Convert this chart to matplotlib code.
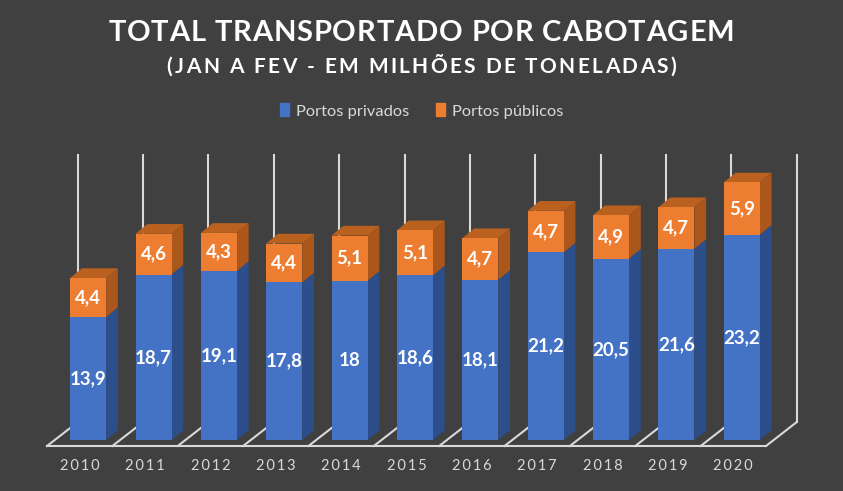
import matplotlib
matplotlib.use("Agg")
import matplotlib.pyplot as plt
from matplotlib.patches import Polygon, Patch
from matplotlib.font_manager import FontProperties

plt.rcParams['font.family'] = ['Lato', 'DejaVu Sans']

anos = ['2010', '2011', '2012', '2013', '2014', '2015', '2016', '2017', '2018', '2019', '2020']
privados = [13.9, 18.7, 19.1, 17.8, 18, 18.6, 18.1, 21.2, 20.5, 21.6, 23.2]
publicos = [4.4, 4.6, 4.3, 4.4, 5.1, 5.1, 4.7, 4.7, 4.9, 4.7, 5.9]

BG = '#404040'
LINE = '#d9d9d9'
AZUL, AZUL_LADO = '#4472c4', '#2c4f8c'
LARANJA, LARANJA_LADO, LARANJA_TOPO = '#ed7d31', '#ab571b', '#ba611f'

# 3d look
W = 0.55            # bar width
DX, DY = 0.18, 1.1  # bar depth
FX, FY = 0.47, 2.7  # floor depth
BX, BY = 0.13, 0.68 # bar front offset from floor front
TOPO = 32.2         # top of back wall lines

fig = plt.figure(figsize=(8.43, 4.91), dpi=100, facecolor=BG)
ax = fig.add_axes([0, 0, 1, 1])
ax.set_facecolor(BG)
ax.set_xlim(-47 / 65.36, (843 - 47) / 65.36)
ax.set_ylim(-(491 - 440) / 8.85, 440 / 8.85)
ax.axis('off')

n = len(anos)
yf = -BY
# floor and back wall
ax.plot([0, n], [yf, yf], color=LINE, lw=1.5, zorder=1)
for i in range(n + 1):
    ax.plot([i, i + FX], [yf, yf + FY], color=LINE, lw=1.5, zorder=1)
    ax.plot([i + FX, i + FX], [yf + FY, TOPO], color=LINE, lw=1.5, zorder=1)


def side(x, b, h, cor):
    xr = x + W / 2
    ax.add_patch(Polygon([(xr, b), (xr + DX, b + DY), (xr + DX, b + h + DY), (xr, b + h)],
                         closed=True, facecolor=cor, edgecolor='none', zorder=3))


def top(x, y, cor):
    xl, xr = x - W / 2, x + W / 2
    ax.add_patch(Polygon([(xl, y), (xl + DX, y + DY), (xr + DX, y + DY), (xr, y)],
                         closed=True, facecolor=cor, edgecolor='none', zorder=3))


for i in range(n):
    x = i + 0.5 + BX
    side(x, 0, privados[i], AZUL_LADO)
    side(x, privados[i], publicos[i], LARANJA_LADO)
    top(x, privados[i] + publicos[i], LARANJA_TOPO)
    ax.bar(x, privados[i], width=W, color=AZUL, zorder=4)
    ax.bar(x, publicos[i], bottom=privados[i], width=W, color=LARANJA, zorder=4)
    ax.text(x, privados[i] / 2, f'{privados[i]:g}'.replace('.', ','), ha='center', va='center',
            color='white', fontsize=13.5, fontweight='bold', zorder=5)
    ax.text(x, privados[i] + publicos[i] / 2, f'{publicos[i]:g}'.replace('.', ','), ha='center',
            va='center', color='white', fontsize=13.5, fontweight='bold', zorder=5)
    ax.text(i + 0.5, -2.94, '\u2009'.join(anos[i]), ha='center', va='center', color=LINE, fontsize=10.5)


def spaced_text(s, yc, size, gap):
    # text with letter spacing (gap in px), centred horizontally
    r = fig.canvas.get_renderer()
    prop = FontProperties(family=['Lato', 'DejaVu Sans'], weight='bold', size=size)
    widths = [r.get_text_width_height_descent(s[:k], prop, ismath=False)[0] for k in range(len(s) + 1)]
    total = widths[-1] + gap * (len(s) - 1)
    x0 = (843 - total) / 2
    for k, ch in enumerate(s):
        if ch == ' ':
            continue
        fig.text((x0 + widths[k] + gap * k) / 843, yc, ch, ha='left', va='center',
                 color='white', fontproperties=prop)


spaced_text('TOTAL TRANSPORTADO POR CABOTAGEM', 1 - 33 / 491, 21, 0.85)
spaced_text('(JAN A FEV - EM MILHÕES DE TONELADAS)', 1 - 67 / 491, 15, 2.4)

handles = [Patch(color=AZUL, label='Portos privados'), Patch(color=LARANJA, label='Portos públicos')]
fig.legend(handles=handles, loc='center', bbox_to_anchor=(0.5, 1 - 111 / 491), ncol=2, frameon=False,
           fontsize=11.8, labelcolor=LINE, handlelength=0.55, handleheight=0.85, handletextpad=0.45,
           columnspacing=1.6)

fig.savefig('out.png', dpi=100, facecolor=BG)
